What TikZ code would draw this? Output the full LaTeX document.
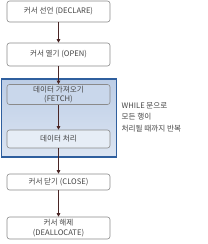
\documentclass[tikz,border=0pt]{standalone}
\usepackage{fontspec}
\setmainfont{Noto Sans CJK KR}
\usepackage{xcolor}
\definecolor{cEdge}{HTML}{8A8A8A}
\definecolor{cArrow}{HTML}{4A2626}
\definecolor{cLoop}{HTML}{2F5F9E}
\definecolor{cLoopTop}{HTML}{BCCDE6}
\definecolor{cLoopBot}{HTML}{DCE5F2}
\definecolor{cText}{HTML}{444444}
\usepackage{tikz}
\usetikzlibrary{arrows.meta, positioning, calc}

\tikzset{
  stepbox/.style={draw=cEdge, fill=white, rounded corners=2.5pt, line width=0.6pt,
    minimum width=103pt, inner sep=1pt, align=center, font=\fontsize{7.6}{9.5}\selectfont,
    text=cText},
  innerbox/.style={stepbox, fill=cLoopBot!70!white},
  flow/.style={-{Triangle[length=3.5pt,width=3.5pt]}, draw=cArrow, line width=0.6pt}
}

\begin{document}
\begin{tikzpicture}[x=1pt, y=-1pt]
\useasboundingbox (0,0) rectangle (207,244);

% loop frame
\shade[top color=cLoopTop, bottom color=cLoopBot, draw=cLoop, line width=1.6pt]
  (1.5,79) rectangle (116.5,157);

\node[stepbox, minimum height=21pt] (declare) at (58.5,11.5) {커서 선언 (DECLARE)};
\node[stepbox, minimum height=23pt] (open) at (58.5,54.5) {커서 열기 (OPEN)};
\node[innerbox, fill=cLoopTop!80!white, minimum height=20pt] (fetch) at (58.5,94.5) {데이터 가져오기\\(FETCH)};
\node[innerbox, minimum height=18pt] (work) at (58.5,139) {데이터 처리};
\node[stepbox, minimum height=16pt] (close) at (58.5,182) {커서 닫기 (CLOSE)};
\node[stepbox, minimum height=22pt] (dealloc) at (58.5,228) {커서 해제\\(DEALLOCATE)};

\node[anchor=north west, align=left, font=\fontsize{7.6}{11.5}\selectfont, text=cText,
  inner sep=0pt] (note) at (121.5,102) {WHILE 문으로\\모든 행이\\처리될 때까지 반복};

\draw[flow] (declare) -- (open);
\draw[flow] (open) -- (fetch);
\draw[flow] (fetch) -- (work);
\draw[flow] (work) -- (close);
\draw[flow] (close) -- (dealloc);
\end{tikzpicture}
\end{document}
